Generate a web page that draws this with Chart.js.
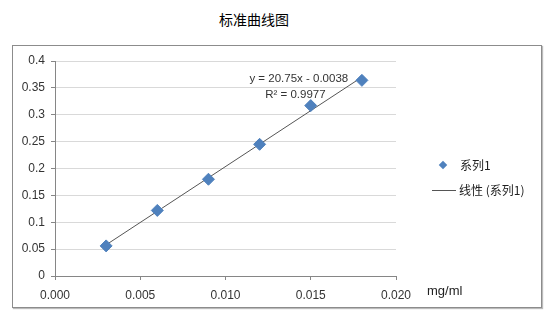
<!DOCTYPE html>
<html>
<head>
  <title>标准曲线图</title>
  <script src="https://cdn.jsdelivr.net/npm/chart.js"></script>
  <style>
    body { margin: 0; background: #fff; font-family: "Noto Sans CJK SC", "Liberation Sans", sans-serif; }
    #title { position: absolute; left: 0; top: 9px; width: 508px; text-align: center; font-size: 14px; color: #000; }
    #frame { position: absolute; left: 12px; top: 45px; width: 528px; height: 261px; border: 1px solid #8c8c8c; box-shadow: 1px 1px 1px #bbb; }
    #chart { display: block; }
    .legend { position: absolute; font-size: 12px; color: #222; }
    .diamond { position: absolute; width: 6px; height: 6px; background: #4f81bd; transform: rotate(45deg); }
    .lline { position: absolute; height: 1px; background: #555; }
  </style>
</head>
<body>
  <div id="title">标准曲线图</div>
  <div id="frame">
    <canvas id="chart" width="528" height="261"></canvas>
    <div class="diamond" style="left:427px; top:116px;"></div>
    <div class="legend" style="left:447px; top:110px;">系列1</div>
    <div class="lline" style="left:419px; top:144px; width:24px;"></div>
    <div class="legend" style="left:446px; top:135px;">线性 (系列1)</div>
  </div>
  <script>
    // concentration (mg/ml) and absorbance
    const concs = [0.003, 0.006, 0.009, 0.012, 0.015, 0.018];
    const absorb = [0.056, 0.122, 0.180, 0.245, 0.317, 0.364];
    // trendline end points y = 20.75x - 0.0038
    const trendX = [0.003, 0.018];
    const trendY = [0.058, 0.370];
    const yTicks = [0, 0.05, 0.1, 0.15, 0.2, 0.25, 0.3, 0.35, 0.4];
    const xTicks = [0, 0.005, 0.01, 0.015, 0.02];

    const notes = {
      id: 'notes',
      afterDraw(chart) {
        const c = chart.ctx;
        const xs = chart.scales.x, ys = chart.scales.y;
        c.save();
        c.fillStyle = '#333';
        c.font = '11.5px "Liberation Sans", sans-serif';
        c.textAlign = 'center';
        c.textBaseline = 'middle';
        c.fillText('y = 20.75x - 0.0038', xs.getPixelForValue(0.0143), ys.getPixelForValue(0.367));
        c.fillText('R² = 0.9977', xs.getPixelForValue(0.0141), ys.getPixelForValue(0.337));
        c.font = '13px "Liberation Sans", sans-serif';
        c.textAlign = 'left';
        c.fillStyle = '#222';
        c.fillText('mg/ml', xs.right + 31, chart.chartArea.bottom + 15);
        c.restore();
      }
    };

    new Chart(document.getElementById('chart'), {
      type: 'scatter',
      data: {
        datasets: [{
          label: '系列1',
          data: concs.map((x, i) => ({x: x, y: absorb[i]})),
          backgroundColor: '#4f81bd',
          borderColor: '#4f81bd',
          pointStyle: 'rectRot',
          pointRadius: 6,
          order: 1
        }, {
          label: '线性 (系列1)',
          type: 'line',
          data: trendX.map((x, i) => ({x: x, y: trendY[i]})),
          borderColor: '#555',
          borderWidth: 1,
          pointRadius: 0,
          order: 2
        }]
      },
      options: {
        responsive: false,
        animation: false,
        layout: { padding: { top: 15, right: 145, left: 0, bottom: 0 } },
        plugins: { legend: { display: false }, tooltip: { enabled: false } },
        scales: {
          x: {
            type: 'linear', min: 0, max: 0.02,
            afterFit: s => { s.height = 31; },
            afterBuildTicks: s => { s.ticks = xTicks.map(v => ({value: v})); },
            grid: { drawOnChartArea: false, drawTicks: true, tickLength: 4, color: '#868686' },
            border: { color: '#868686' },
            ticks: { color: '#333', font: { size: 12, family: 'Liberation Sans' }, padding: 8, maxRotation: 0,
                     callback: v => v.toFixed(3) }
          },
          y: {
            min: 0, max: 0.4,
            afterFit: s => { s.width = 42; },
            afterBuildTicks: s => { s.ticks = yTicks.map(v => ({value: v})); },
            grid: { color: '#d9d9d9', tickLength: 4, tickColor: '#868686' },
            border: { color: '#868686' },
            ticks: { color: '#333', font: { size: 12, family: 'Liberation Sans' }, padding: 6,
                     callback: v => String(+v.toFixed(2)) }
          }
        }
      },
      plugins: [notes]
    });
  </script>
</body>
</html>
